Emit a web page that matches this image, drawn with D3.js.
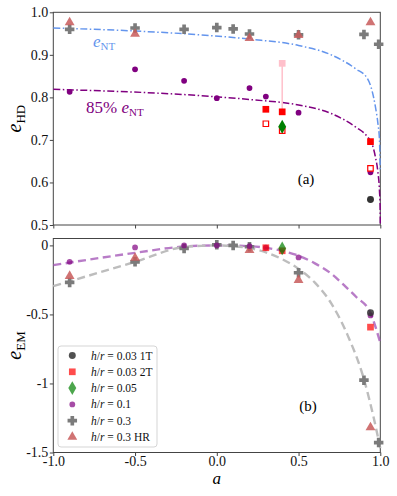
<!DOCTYPE html>
<html><head><meta charset="utf-8">
<script src="https://cdn.jsdelivr.net/npm/d3@7"></script>
<style>
html,body{margin:0;padding:0;background:#fff;}
svg{display:block;}
svg text{font-family:"Liberation Serif","DejaVu Serif",serif;}
</style></head>
<body>
<svg id="c" width="397" height="496"></svg>
<script>
// ---------- data ----------
// h/r = 0.3 (gray plus)
const a03 = [-0.9,-0.5,-0.2,0,0.1,0.2,0.5,0.9,0.99];
const hd03 = [0.960,0.963,0.960,0.964,0.961,0.949,0.947,0.948,0.925];
const em03 = [-0.268,-0.119,-0.022,0.005,0.0,-0.01,-0.198,-0.976,-1.428];
// h/r = 0.3 HR (triangles)
const aHR = [-0.9,-0.5,0.2,0.5,0.94];
const hdHR = [0.976,0.949,0.939,0.946,0.976];
const emHR = [-0.222,-0.09,-0.034,-0.251,-1.319];
// h/r = 0.1 (purple dots)
const a01 = [-0.9,-0.5,-0.2,0,0.2,0.3,0.5,0.94];
const hd01 = [0.813,0.866,0.839,0.798,0.822,0.802,0.764,0.624];
const em01 = [-0.119,-0.015,0.0,0.0,-0.005,-0.017,-0.087,-0.507];
// h/r = 0.03 2T (red squares)
const a2T = [0.3,0.4,0.94];
const hd2T = [0.772,0.766,0.696];
const hd2Topen = [0.738,0.722,0.633];
const em2T = [-0.017,-0.039,-0.592];
const a2Tpink = [0.4];
const hd2Tpink = [0.880];
// h/r = 0.03 1T (black)
const a1T = [0.94];
const hd1T = [0.560];
const em1T = [-0.488];
// h/r = 0.05 (green diamond)
const a005 = [0.4];
const hd005 = [0.731];
const em005 = [-0.022];
// e_NT curve
const aNT = [-1,-0.5,-0.1,0.2,0.5,0.7,0.85,0.92,0.95,0.97,0.985,0.995,0.999];
const vNT = [0.963,0.956,0.947,0.937,0.922,0.900,0.867,0.845,0.815,0.778,0.74,0.70,0.63];
// 85% e_NT curve
const aNT85 = [-1,-0.1,0.2,0.5,0.7,0.85,0.92,0.95,0.97,0.985,0.995,0.999,1.0];
const vNT85 = [0.819,0.804,0.795,0.782,0.762,0.730,0.708,0.690,0.660,0.625,0.58,0.54,0.5];
// bottom fits
const aFitP = [-1,-0.5,-0.2,0,0.2,0.4,0.5,0.6,0.7,0.78,0.85,0.94,1.0];
const vFitP = [-0.143,-0.054,-0.008,0.0,-0.006,-0.04,-0.075,-0.13,-0.205,-0.29,-0.37,-0.49,-0.706];
const aFitG = [-1,-0.5,-0.2,0,0.2,0.4,0.5,0.6,0.7,0.8,0.9,0.96,1.0];
const vFitG = [-0.295,-0.119,-0.012,0.0,-0.02,-0.1,-0.17,-0.27,-0.42,-0.65,-0.97,-1.25,-1.47];
// ticks
const xTicks = [-1.0,-0.5,0.0,0.5,1.0];
const xTickLabels = ["-1.0","-0.5","0.0","0.5","1.0"];
const yTopTicks = [0.5,0.6,0.7,0.8,0.9,1.0];
const yTopLabels = ["0.5","0.6","0.7","0.8","0.9","1.0"];
const yBotTicks = [0,-0.5,-1,-1.5];
const yBotLabels = ["0","-0.5","-1","-1.5"];
const legendLabels = [["0.03","1T"],["0.03","2T"],["0.05",""],["0.1",""],["0.3",""],["0.3","HR"]];

// ---------- drawing ----------
const svg = d3.select("#c");
const L = 53.3, R = 380.3;
const x = d3.scaleLinear([-1,1],[L,R]);
const yT = d3.scaleLinear([0.5,1.0],[225,12.3]);
const yB = d3.scaleLinear([-1.5,0.05],[452.5,238.5]);
const SERIF = "'Liberation Serif','DejaVu Serif',serif";

const C = {
  gray:"#7b7b7b", tri:"rgba(200,90,90,0.85)", purple:"#800080",
  red:"#ff0000", green:"#008000", black:"#333333", pink:"#ffc0cb", blue:"#6495ed"
};

function plus(s){ // filled plus path
  const t=s/2, w=s/5.2;
  return `M${-w},${-t}H${w}V${-w}H${t}V${w}H${w}V${t}H${-w}V${w}H${-t}V${-w}H${-w}Z`;
}
const sym = (type,size)=>d3.symbol().type(type).size(size)();

function frame(y, yTicks, yLabels, xLabels){
  const g = svg.append("g");
  const [y0,y1] = y.range();
  g.append("rect").attr("x",L).attr("y",y1).attr("width",R-L).attr("height",y0-y1)
   .attr("fill","none").attr("stroke","#444").attr("stroke-width",1);
  const ax = g.append("g").attr("transform",`translate(0,${y0})`)
    .call(d3.axisBottom(x).tickValues(xTicks).tickSize(3.5).tickFormat((d,i)=>xLabels?xLabels[i]:""));
  const ay = g.append("g").attr("transform",`translate(${L},0)`)
    .call(d3.axisLeft(y).tickValues(yTicks).tickSize(3.5).tickFormat((d,i)=>yLabels[i]));
  [ax,ay].forEach(a=>{
    a.attr("font-family",null).attr("font-size",null);
    a.select(".domain").remove();
    a.selectAll("line").attr("stroke","#444");
    a.selectAll("text").attr("font-size",14).attr("fill","#111").style("font-family",SERIF);
  });
  ax.selectAll("text").attr("y",3.5).attr("dy","0.71em");
  ay.selectAll("text").attr("x",-5);
}

function pts(g, xs, ys, y, path, fill, stroke, op){
  g.selectAll(null).data(xs).enter().append("path")
    .attr("d",path).attr("transform",(d,i)=>`translate(${x(d)},${y(ys[i])})`)
    .attr("fill",fill).attr("stroke",stroke||"none").attr("stroke-width",1.2)
    .attr("opacity",op==null?1:op);
}

// ---- top panel ----
frame(yT, yTopTicks, yTopLabels, null);
const gt = svg.append("g");
const lineT = (xs,ys)=>d3.line().x((d,i)=>x(xs[i])).y((d,i)=>yT(ys[i])).curve(d3.curveMonotoneX)(xs);
gt.append("path").attr("d",lineT(aNT,vNT)).attr("fill","none").attr("stroke",C.blue)
  .attr("stroke-width",1.5).attr("stroke-dasharray","7,2.5,1.5,2.5");
gt.append("path").attr("d",lineT(aNT85,vNT85)).attr("fill","none").attr("stroke",C.purple)
  .attr("stroke-width",1.5).attr("stroke-dasharray","7,2.5,1.5,2.5");
// pink error bar
gt.selectAll(null).data(a2Tpink).enter().append("line")
  .attr("x1",d=>x(d)).attr("x2",d=>x(d)).attr("y1",(d,i)=>yT(hd2Tpink[i])).attr("y2",(d,i)=>yT(hd2T[a2T.indexOf(d)]))
  .attr("stroke",C.pink).attr("stroke-width",1.5);
pts(gt,a2Tpink,hd2Tpink,yT,sym(d3.symbolSquare,45),C.pink);
pts(gt,a03,hd03,yT,plus(9.5),C.gray);
pts(gt,aHR,hdHR,yT,sym(d3.symbolTriangle,42),C.tri);
pts(gt,a01,hd01,yT,sym(d3.symbolCircle,26),C.purple);
pts(gt,a2T,hd2Topen,yT,sym(d3.symbolSquare,30),"#fff",C.red);
pts(gt,a2T,hd2T,yT,sym(d3.symbolSquare,45),C.red);
pts(gt,a005,hd005,yT,sym(d3.symbolDiamond,55),C.green);
pts(gt,a1T,hd1T,yT,sym(d3.symbolCircle,38),C.black);
// annotations
const tNT = gt.append("text").attr("x",93).attr("y",47).attr("fill",C.blue).attr("font-size",17);
tNT.append("tspan").attr("font-style","italic").text("e");
tNT.append("tspan").attr("font-size",11).attr("dy",3).text("NT");
const t85 = gt.append("text").attr("x",86).attr("y",113).attr("fill",C.purple).attr("font-size",17);
t85.append("tspan").text("85% ");
t85.append("tspan").attr("font-style","italic").text("e");
t85.append("tspan").attr("font-size",11).attr("dy",3).text("NT");
gt.append("text").attr("x",306).attr("y",184).attr("text-anchor","middle").attr("font-size",15).text("(a)");
const ylT = svg.append("text").attr("transform",`translate(21,${(12.3+225)/2}) rotate(-90)`)
  .attr("text-anchor","middle").attr("font-size",20);
ylT.append("tspan").attr("font-style","italic").text("e");
ylT.append("tspan").attr("font-size",13).attr("dy",4).text("HD");

// ---- bottom panel ----
frame(yB, yBotTicks, yBotLabels, xTickLabels);
const gb = svg.append("g");
const lineB = (xs,ys)=>d3.line().x((d,i)=>x(xs[i])).y((d,i)=>yB(ys[i])).curve(d3.curveMonotoneX)(xs);
gb.append("path").attr("d",lineB(aFitP,vFitP)).attr("fill","none").attr("stroke","rgba(160,80,180,0.75)")
  .attr("stroke-width",2.4).attr("stroke-dasharray","8,4.5");
gb.append("path").attr("d",lineB(aFitG,vFitG)).attr("fill","none").attr("stroke","#bdbdbd")
  .attr("stroke-width",2.4).attr("stroke-dasharray","8,4.5");
pts(gb,a03,em03,yB,plus(9.5),C.gray);
pts(gb,aHR,emHR,yB,sym(d3.symbolTriangle,42),C.tri);
pts(gb,a01,em01,yB,sym(d3.symbolCircle,26),C.purple,null,0.7);
pts(gb,a2T,em2T,yB,sym(d3.symbolSquare,45),C.red,null,0.7);
pts(gb,a005,em005,yB,sym(d3.symbolDiamond,55),C.green,null,0.7);
pts(gb,a1T,em1T,yB,sym(d3.symbolCircle,38),C.black,null,0.85);
gb.append("text").attr("x",308).attr("y",411).attr("text-anchor","middle").attr("font-size",15).text("(b)");
const ylB = svg.append("text").attr("transform",`translate(21,${(238.5+452.5)/2}) rotate(-90)`)
  .attr("text-anchor","middle").attr("font-size",20);
ylB.append("tspan").attr("font-style","italic").text("e");
ylB.append("tspan").attr("font-size",13).attr("dy",4).text("EM");
svg.append("text").attr("x",216.8).attr("y",484).attr("text-anchor","middle")
  .attr("font-size",17).attr("font-style","italic").text("a");

// legend
const lg = svg.append("g");
lg.append("rect").attr("x",58).attr("y",346).attr("width",99).attr("height",101).attr("rx",3)
  .attr("fill","rgba(255,255,255,0.85)").attr("stroke","#d5d5d5");
const legSyms = [
  [sym(d3.symbolCircle,38),C.black,0.85],
  [sym(d3.symbolSquare,45),C.red,0.7],
  [sym(d3.symbolDiamond,55),C.green,0.7],
  [sym(d3.symbolCircle,26),C.purple,0.7],
  [plus(9.5),C.gray,1],
  [sym(d3.symbolTriangle,42),C.tri,1]
];
legendLabels.forEach((lab,i)=>{
  const yy = 355.5 + i*16.3;
  lg.append("path").attr("d",legSyms[i][0]).attr("transform",`translate(72.3,${yy})`)
    .attr("fill",legSyms[i][1]).attr("opacity",legSyms[i][2]);
  const t = lg.append("text").attr("x",91).attr("y",yy+4).attr("font-size",11.5).attr("fill","#111");
  t.append("tspan").attr("font-style","italic").text("h");
  t.append("tspan").text("/");
  t.append("tspan").attr("font-style","italic").text("r");
  t.append("tspan").text(" = " + lab[0] + (lab[1]?" "+lab[1]:""));
});
</script>
</body></html>
